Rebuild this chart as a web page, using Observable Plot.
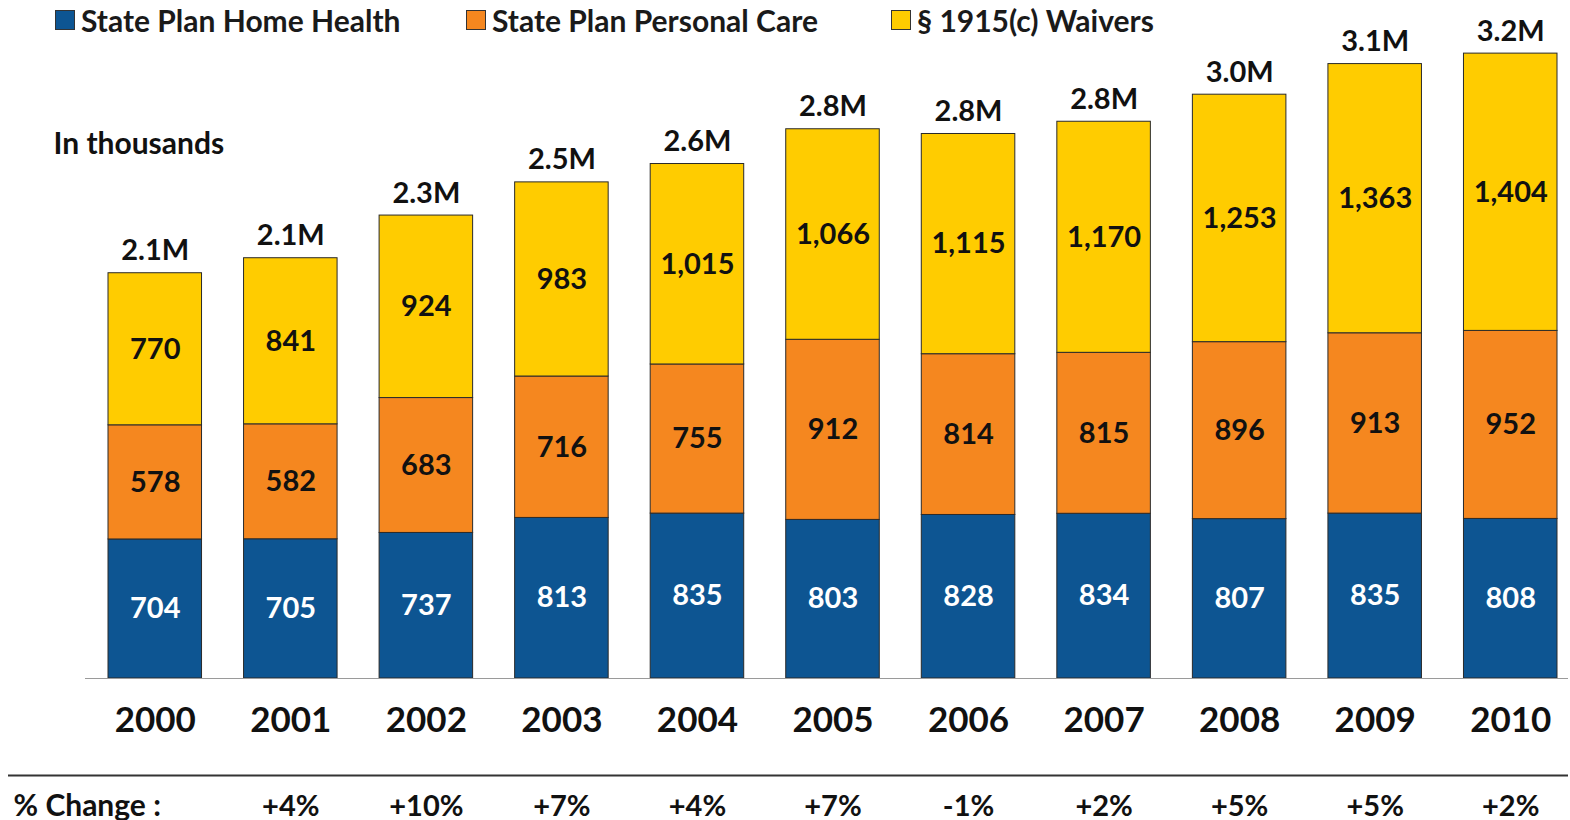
<!DOCTYPE html>
<html><head><meta charset="utf-8">
<script src="https://cdn.jsdelivr.net/npm/d3@7"></script>
<script src="https://cdn.jsdelivr.net/npm/@observablehq/plot@0.6"></script>
<style>
body{margin:0;background:#fff;font-family:Lato,sans-serif;}
#legend{position:relative;height:36px;font-weight:700;font-size:30px;color:#1a1a1a}
.item{position:absolute;top:3px;display:flex;align-items:center;white-space:nowrap;line-height:34px}
.sw{width:20px;height:20px;border:1.5px solid #333;margin-right:6px;box-sizing:border-box}
#chart svg g[aria-label="x-axis tick label"] text{font-size:35px;font-weight:700;fill:#111}
</style></head><body>
<div id="legend"></div><div id="chart"></div>
<script>
const years = ["2000","2001","2002","2003","2004","2005","2006","2007","2008","2009","2010"];
const homeHealth = [704,705,737,813,835,803,828,834,807,835,808];
const personalCare = [578,582,683,716,755,912,814,815,896,913,952];
const waivers = [770,841,924,983,1015,1066,1115,1170,1253,1363,1404];
const pctChange = ["","+4%","+10%","+7%","+4%","+7%","-1%","+2%","+5%","+5%","+2%"];
const seriesNames = ["State Plan Home Health","State Plan Personal Care","§ 1915(c) Waivers"];
const seriesColors = ["#0d5592","#f5871f","#ffcc00"];

const legendLefts = [55, 466, 891];
const legend = document.getElementById("legend");
seriesNames.forEach((s,i)=>{
  const it = document.createElement("div");
  it.className="item"; it.style.left = legendLefts[i]+"px";
  const sw = document.createElement("span"); sw.className="sw"; sw.style.background=seriesColors[i];
  it.appendChild(sw); it.appendChild(document.createTextNode(s));
  legend.appendChild(it);
});

const seriesValues = [homeHealth, personalCare, waivers];
const rows = [];
years.forEach((y,i)=>seriesNames.forEach((s,j)=>rows.push({year:y, series:s, value:seriesValues[j][i]})));
const totals = years.map((y,i)=>{const t = homeHealth[i]+personalCare[i]+waivers[i]; return {year:y, total:t, label:(t/1000).toFixed(1)+"M"};});
const pctRows = years.map((y,i)=>({year:y, text:pctChange[i]}));
const fmt = d3.format(",");
const F = {fontSize:29, fontWeight:"bold"};

const chart = Plot.plot({
  width:1570, height:784,
  marginTop:10, marginBottom:142, marginLeft:108, marginRight:13,
  style:{fontFamily:"Lato, sans-serif", overflow:"visible", background:"transparent"},
  x:{type:"band", domain:years, paddingInner:0.31, paddingOuter:0, round:false, label:null},
  y:{domain:[0,3200], axis:null},
  color:{domain:seriesNames, range:seriesColors},
  marks:[
    Plot.barY(rows, Plot.stackY({x:"year", y:"value", fill:"series", stroke:"#2a2a2a", strokeWidth:1})),
    Plot.text(rows, Plot.stackY({x:"year", y:"value", text:d=>fmt(d.value), fill:d=>d.series===seriesNames[0]?"#ffffff":"#111111", ...F})),
    Plot.text(totals, {x:"year", y:"total", text:"label", lineAnchor:"bottom", dy:-13, fill:"#111", fontSize:29, fontWeight:"bold"}),
    Plot.ruleY([0], {stroke:"#9a9a9a", strokeWidth:1, insetLeft:-23, insetRight:-11}),
    Plot.axisX({tickSize:0, tickPadding:29, label:null}),
    Plot.ruleY([0], {dy:97, stroke:"#333", strokeWidth:2, insetLeft:-100, insetRight:-11}),
    Plot.text(pctRows, {x:"year", text:"text", frameAnchor:"bottom", dy:137, fill:"#111", ...F}),
    Plot.text(["% Change :"], {frameAnchor:"bottom-left", dx:-95, dy:137, textAnchor:"start", fill:"#111", fontSize:30, fontWeight:"bold"}),
    Plot.text(["In thousands"], {frameAnchor:"top-left", dx:-55, dy:86, textAnchor:"start", fill:"#111", fontSize:30, fontWeight:"bold"})
  ]
});
document.getElementById("chart").appendChild(chart);
</script>
</body></html>
